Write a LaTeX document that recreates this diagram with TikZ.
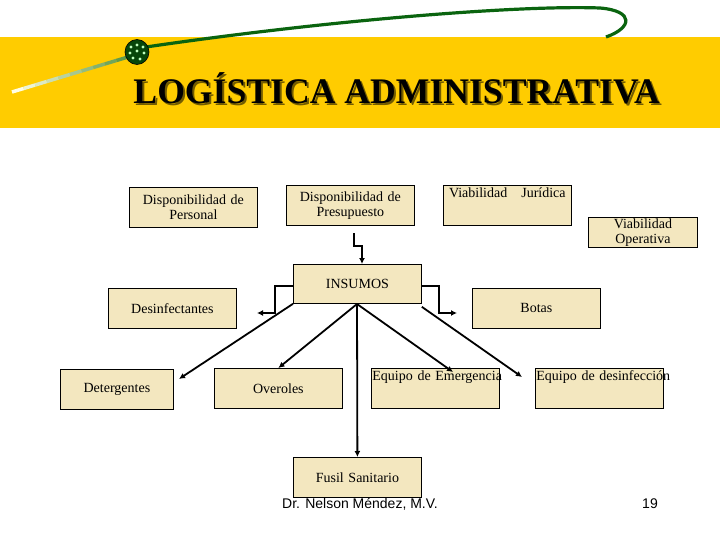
\documentclass[tikz,border=0pt]{standalone}
\usepackage{fontspec}
\setmainfont{Liberation Serif}
\newfontfamily\footfont{Liberation Sans}
\usetikzlibrary{arrows.meta,calc}

\definecolor{bandyellow}{RGB}{255,204,0}
\definecolor{boxfill}{RGB}{243,231,191}
\definecolor{curvegreen}{RGB}{10,100,15}

\begin{document}
\begin{tikzpicture}[x=1pt,y=-1pt,
  box/.style={draw,fill=boxfill,line width=0.8pt,anchor=north west,
    text width=126,minimum height=40,inner sep=1pt,
    font=\fontsize{14}{15.5}\selectfont,align=center},
  topbox/.style={box,align=left,text depth=26pt},
  conn/.style={line width=1.8pt,-{Latex[length=6pt,width=6pt]}},
  title/.style={anchor=base west,xscale=0.99,font=\fontsize{36}{36}\selectfont\bfseries}]

\useasboundingbox (0,0) rectangle (720,540);

% band and curve
\fill [bandyellow] (0,37) rectangle (720,128);
\foreach \i in {0,...,9}
  \draw [line width=3.5pt,color=curvegreen!\the\numexpr 8*\i\relax!white!90!yellow]
    ($(12,92)!\i/10!(128,57)$) -- ($(12,92)!\i/10+0.1!(128,57)$);
\draw [line width=3.2pt,curvegreen] (146,47) .. controls (330,20) and (520,5) .. (600,8)
  .. controls (635,11) and (632,28) .. (606,37);
\fill [curvegreen!70!black,draw=black,line width=0.6pt] (137,52) ellipse [x radius=12,y radius=12.5];
\foreach \dx/\dy in {-6/-5,0/-7,6/-5,-7/1,0/-1,7/1,-4/6,3/7}
  \fill [white!75!green] (137+\dx,52+\dy) circle [radius=1.6];

% title
\node [title,text=bandyellow!45!black] at (132,106) {LOGÍSTICA ADMINISTRATIVA};
\node (titulo) [title] at (130,104) {LOGÍSTICA ADMINISTRATIVA};

% boxes
\node (personal) [box] at (129,187) {Disponibilidad de\\Personal};
\node (presupuesto) [box] at (286,185) {Disponibilidad de\\Presupuesto};
\node (juridica) [topbox] at (443,185) {\mbox{\ Viabilidad\ \ \ Jurídica}};
\node (operativa) [box,text width=107,minimum height=30,inner sep=1pt] at (588,217) {Viabilidad\\Operativa};
\node (insumos) [box,minimum height=39] at (293,264) {INSUMOS};
\node (desinf) [box] at (108,288) {Desinfectantes};
\node (botas) [box] at (472,288) {Botas};
\node (detergentes) [box,text width=111] at (60,369) {Detergentes};
\node (overoles) [box] at (214,368) {Overoles};
\node (emergencia) [topbox] at (371,368) {\mbox{Equipo de Emergencia}};
\node (equipodes) [topbox] at (535,368) {\mbox{Equipo de desinfección}};
\node (fusil) [box] at (293,457) {Fusil Sanitario};

% connectors
\coordinate (p1) at (354,233);
\coordinate (p2) at (362,246);
\coordinate (tipdes) at (257,313);
\coordinate (tipbot) at (457,313);
\coordinate (tipdet) at (179,379);
\coordinate (tipeme) at (453,372);
\coordinate (tipeqd) at (522,377);
\coordinate (hub) at (357,304);

\draw [conn] (p1) |- (p2) -- (insumos.north -| p2);
\draw [conn] ([yshift=-2pt]insumos.west) -- ++(-18,0) |- (tipdes);
\draw [conn] ([yshift=-2pt]insumos.east) -- ++(17,0) |- (tipbot);
\draw [conn] (insumos.south west) -- (tipdet);
\draw [conn] (hub) -- (overoles.north);
\draw [conn] (hub) -- (fusil.north);
\draw [conn] (hub) -- (tipeme);
\draw [conn] ([yshift=-3pt]insumos.south east) -- (tipeqd);

% footer
\node (autor) [font=\footfont\fontsize{14}{14}\selectfont] at (360,504) {Dr. Nelson Méndez, M.V.};
\node (pagina) [font=\footfont\fontsize{14}{14}\selectfont] at (650,504) {19};

\end{tikzpicture}
\end{document}
